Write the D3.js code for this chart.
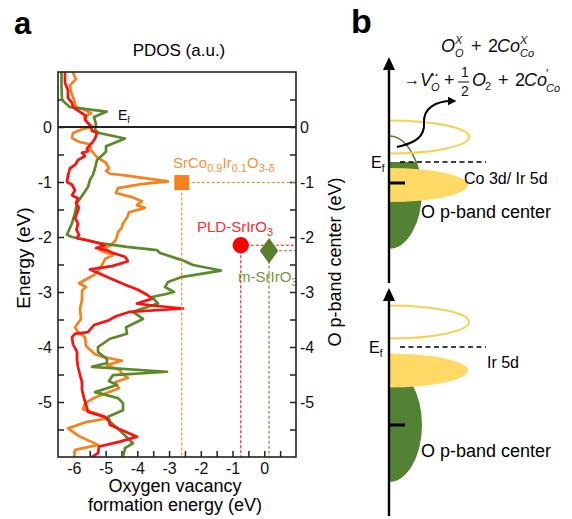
<!DOCTYPE html>
<html><head><meta charset="utf-8">
<script src="https://cdn.jsdelivr.net/npm/d3@7"></script>
<style>
body{margin:0;background:#fff}
svg{display:block}
text{font-family:"Liberation Sans",Arial,sans-serif}
</style>
</head><body><svg id="c" width="572" height="519"></svg>
<script>
// ---------------- DATA ----------------
const energyTicks = [0, -1, -2, -3, -4, -5];
const vacancyTicks = [-6, -5, -4, -3, -2, -1, 0];
// PDOS curves: [PDOS (a.u.), energy (eV)]
const pdosSrCoIrO = [[1.4,1.02],[1.8,0.87],[1.2,0.76],[1.3,0.64],[1.6,0.49],[1.8,0.36],[2.5,0.33],[3.3,0.25],[2.6,0.18],[3.0,0.07],[3.5,0.0],[2.4,-0.04],[1.5,-0.11],[1.4,-0.2],[2.1,-0.27],[3.1,-0.31],[3.3,-0.42],[3.9,-0.55],[4.8,-0.65],[5.1,-0.75],[4.8,-0.8],[5.2,-0.85],[6.7,-0.88],[9.0,-0.94],[11.0,-0.99],[8.3,-1.04],[6.0,-1.11],[5.8,-1.2],[7.3,-1.27],[8.4,-1.35],[7.9,-1.42],[8.7,-1.47],[7.1,-1.55],[6.9,-1.65],[6.5,-1.75],[6.35,-1.84],[6.0,-1.91],[5.8,-2.05],[5.3,-2.15],[4.2,-2.24],[5.5,-2.33],[4.7,-2.4],[4.4,-2.51],[4.0,-2.62],[3.6,-2.69],[2.1,-2.84],[2.8,-2.91],[2.4,-2.98],[2.4,-3.13],[2.2,-3.31],[2.3,-3.49],[1.7,-3.64],[2.0,-3.73],[2.7,-3.82],[2.8,-3.98],[3.7,-4.13],[4.5,-4.18],[6.4,-4.25],[4.9,-4.33],[6.2,-4.42],[6.4,-4.49],[7.0,-4.56],[5.7,-4.64],[6.1,-4.75],[4.8,-4.84],[3.8,-4.91],[2.7,-5.02],[2.5,-5.13],[4.3,-5.24],[4.9,-5.3],[2.9,-5.36],[1.0,-5.48],[2.1,-5.62],[4.0,-5.78],[1.7,-5.87],[1.6,-6.0]];
const pdosPLD = [[0.7,1.02],[0.7,0.8],[1.0,0.67],[1.0,0.53],[1.4,0.44],[1.5,0.36],[1.9,0.31],[2.4,0.25],[2.8,0.2],[2.7,0.13],[3.0,0.07],[3.3,0.0],[3.4,-0.07],[3.9,-0.11],[3.7,-0.21],[3.4,-0.29],[2.9,-0.39],[3.0,-0.44],[2.4,-0.47],[2.7,-0.53],[2.0,-0.6],[1.7,-0.69],[1.2,-0.75],[1.0,-0.87],[0.9,-1.0],[1.4,-1.05],[1.7,-1.15],[1.4,-1.24],[2.0,-1.3],[1.8,-1.38],[2.1,-1.47],[1.9,-1.56],[1.7,-1.66],[2.0,-1.75],[1.85,-1.87],[2.1,-1.96],[1.9,-2.02],[2.7,-2.05],[4.0,-2.11],[4.7,-2.15],[3.8,-2.2],[4.9,-2.24],[5.5,-2.29],[6.7,-2.36],[7.0,-2.44],[5.4,-2.53],[3.2,-2.59],[4.2,-2.67],[5.2,-2.75],[6.9,-2.88],[8.0,-2.96],[8.9,-3.05],[9.4,-3.12],[7.9,-3.21],[9.7,-3.25],[12.5,-3.3],[7.2,-3.36],[5.8,-3.44],[5.0,-3.52],[3.6,-3.6],[3.0,-3.73],[1.7,-3.76],[1.4,-3.82],[1.5,-3.95],[1.9,-4.09],[1.9,-4.24],[2.0,-4.36],[2.2,-4.51],[2.4,-4.64],[2.4,-4.78],[2.6,-4.93],[2.8,-5.05],[3.0,-5.18],[4.7,-5.27],[5.1,-5.35],[5.2,-5.42],[7.9,-5.63],[6.2,-5.72],[4.1,-5.81],[4.0,-5.93],[3.4,-6.0]];
const pdosMono = [[0.35,1.02],[0.35,0.76],[0.4,0.49],[1.2,0.36],[4.87,0.28],[3.6,0.18],[3.8,0.05],[3.7,-0.05],[4.1,-0.11],[6.7,-0.21],[4.8,-0.35],[4.8,-0.45],[3.9,-0.6],[3.7,-0.75],[3.5,-0.87],[3.2,-0.96],[3.0,-1.09],[2.4,-1.25],[1.9,-1.38],[1.7,-1.56],[1.4,-1.75],[0.9,-1.96],[1.4,-2.0],[4.2,-2.11],[6.9,-2.18],[9.9,-2.24],[10.2,-2.29],[12.4,-2.42],[13.5,-2.51],[16.3,-2.61],[12.3,-2.73],[11.0,-2.82],[10.7,-2.91],[11.6,-3.0],[10.7,-3.04],[9.4,-3.09],[10.0,-3.21],[7.5,-3.36],[8.5,-3.49],[6.8,-3.64],[6.9,-3.76],[5.2,-3.85],[4.0,-4.0],[4.0,-4.09],[4.9,-4.22],[4.9,-4.29],[3.4,-4.36],[10.9,-4.45],[5.5,-4.51],[5.1,-4.62],[5.9,-4.69],[3.7,-4.82],[6.0,-4.93],[6.5,-5.02],[6.5,-5.15],[5.0,-5.27],[5.2,-5.36],[5.9,-5.47],[7.5,-5.75],[6.7,-5.84],[6.5,-6.0]];
const sampleNames = ["SrCo0.9Ir0.1O3-δ", "PLD-SrIrO3", "m-SrIrO3"];
const vacancyEnergy = [-2.6, -0.74, 0.15];     // eV (bottom axis)
const pBandCenter = [-1.01, -2.15, -2.25];     // eV (right axis)
const sampleColors = ["#f5821f", "#ff1010", "#5b8a2b"];
const labelColors = ["#f7923a", "#ff2a2a", "#6f9a40"];
const bandLabelsB = ["Co 3d/ Ir 5d", "Ir 5d"];

// ---------------- PANEL A ----------------
const svg = d3.select("#c");
const L = 58, R = 296, T = 72, B = 457;
const x = d3.scaleLinear().domain([-6.5, 1]).range([L, R]);
const y = d3.scaleLinear().domain([-6, 1]).range([B, T]);
const pdosX = d3.scaleLinear().domain([0, 23.8]).range([L, R]);

svg.append("text").attr("x", 14).attr("y", 34).attr("font-size", 31).attr("font-weight", "bold").text("a");
svg.append("text").attr("x", 351).attr("y", 33).attr("font-size", 34).attr("font-weight", "bold").text("b");
svg.append("text").attr("x", 179).attr("y", 56).attr("text-anchor", "middle").attr("font-size", 17).text("PDOS (a.u.)");

const fmt = d => Number.isInteger(d) ? String(d) : "";
const halfTicks = d3.range(-11, 2).map(i => i / 2);
function styleAxis(g) {
  g.select(".domain").remove();
  g.selectAll("line").attr("stroke", "#222").attr("stroke-width", 1.5);
  g.selectAll("text").attr("font-size", 16).attr("font-family", "'Liberation Sans', Arial, sans-serif").attr("fill", "#111");
}
svg.append("g").attr("transform", `translate(${L},0)`)
  .call(d3.axisLeft(y).tickValues(halfTicks).tickSize(-6).tickPadding(6).tickFormat(fmt)).call(styleAxis);
svg.append("g").attr("transform", `translate(${R},0)`)
  .call(d3.axisRight(y).tickValues(halfTicks).tickSize(-6).tickPadding(4).tickFormat(fmt)).call(styleAxis);
svg.append("g").attr("transform", `translate(0,${B})`)
  .call(d3.axisBottom(x).tickValues(d3.range(-12, 2).map(i => i / 2)).tickSize(-6).tickPadding(6).tickFormat(fmt)).call(styleAxis);

svg.append("text").attr("transform", "translate(30,258) rotate(-90)").attr("text-anchor", "middle").attr("font-size", 19).text("Energy (eV)");
svg.append("text").attr("transform", "translate(341,262) rotate(-90)").attr("text-anchor", "middle").attr("font-size", 18).text("O p-band center (eV)");
svg.append("text").attr("x", 175).attr("y", 492).attr("text-anchor", "middle").attr("font-size", 18).text("Oxygen vacancy");
svg.append("text").attr("x", 175).attr("y", 511).attr("text-anchor", "middle").attr("font-size", 18).text("formation energy (eV)");

svg.append("clipPath").attr("id", "plotclip").append("rect").attr("x", L).attr("y", T).attr("width", R - L).attr("height", B - T);
const line = d3.line().x(d => pdosX(d[0])).y(d => y(d[1]));
const curves = svg.append("g").attr("clip-path", "url(#plotclip)");
[[pdosSrCoIrO, 0], [pdosMono, 2], [pdosPLD, 1]].forEach(([data, i]) => {
  curves.append("path").datum(data).attr("d", line).attr("fill", "none")
    .attr("stroke", sampleColors[i]).attr("stroke-width", 2.7).attr("stroke-linejoin", "round");
});

// Fermi level
svg.append("line").attr("x1", L).attr("x2", R).attr("y1", y(0)).attr("y2", y(0)).attr("stroke", "#222").attr("stroke-width", 2);
const ef = svg.append("text").attr("x", 118).attr("y", 120).attr("font-size", 14);
ef.append("tspan").text("E");
ef.append("tspan").attr("font-size", 9).attr("dy", 3).text("f");

// sample markers and dashed guides
vacancyEnergy.forEach((v, i) => {
  const cx = x(v), cy = y(pBandCenter[i]);
  svg.append("line").attr("x1", cx).attr("x2", R).attr("y1", cy).attr("y2", cy)
    .attr("stroke", sampleColors[i]).attr("stroke-width", 1.1).attr("stroke-dasharray", "3,2");
  svg.append("line").attr("x1", cx).attr("x2", cx).attr("y1", cy).attr("y2", B)
    .attr("stroke", sampleColors[i]).attr("stroke-width", 1.1).attr("stroke-dasharray", "3,2");
});
const symTypes = [d3.symbolSquare, d3.symbolCircle, d3.symbolDiamond];
const symSizes = [225, 210, 190];
const symFill = ["#f5821f", "#ff0000", "#5a7f2a"];
vacancyEnergy.forEach((v, i) => {
  svg.append("path").attr("d", d3.symbol().type(symTypes[i]).size(symSizes[i])())
    .attr("transform", `translate(${x(v)},${y(pBandCenter[i])})` + (i === 2 ? " scale(1.25,1)" : ""))
    .attr("fill", symFill[i]);
});

// sample labels with subscripts
function richLabel(parts, px, py, color) {
  const t = svg.append("text").attr("x", px).attr("y", py).attr("font-size", 15).attr("fill", color);
  let sub = false;
  parts.forEach(p => {
    const isSub = /^[0-9.\-δ]+$/.test(p) && p !== "-";
    const s = t.append("tspan").text(p);
    if (isSub && !sub) { s.attr("dy", 4).attr("font-size", 11); sub = true; }
    else if (isSub) { s.attr("font-size", 11); }
    else if (sub) { s.attr("dy", -4); sub = false; }
  });
}
richLabel(["SrCo", "0.9", "Ir", "0.1", "O", "3-δ"], 173, 168, labelColors[0]);
richLabel(["PLD-SrIrO", "3"], 197, 232, labelColors[1]);
richLabel(["m-SrIrO", "3"], 238, 282, labelColors[2]);

// frame
svg.append("rect").attr("x", L).attr("y", T).attr("width", R - L).attr("height", B - T)
  .attr("fill", "none").attr("stroke", "#222").attr("stroke-width", 1.6);

// ---------------- PANEL B (schematic) ----------------
const yellow = "#ffd966", yellowLine = "#f7cf52", green = "#548235";
const ax = 389;
const halfEll = (cy, rx, ry) => `M${ax},${cy - ry} A${rx},${ry} 0 0 1 ${ax},${cy + ry}`;
const defs = svg.append("defs");
defs.append("marker").attr("id", "ah").attr("viewBox", "0 0 10 10").attr("refX", 5).attr("refY", 5)
  .attr("markerWidth", 4.5).attr("markerHeight", 4.5).attr("orient", "auto")
  .append("path").attr("d", "M0,0 L10,5 L0,10 z").attr("fill", "#000");
defs.append("clipPath").attr("id", "belowEf").append("rect").attr("x", ax).attr("y", 162).attr("width", 100).attr("height", 120);

function diagram(o) {
  const g = svg.append("g");
  if (o.greenOutlineAbove) {
    g.append("path").attr("d", halfEll(o.gCy, o.gRx, o.gRy)).attr("fill", "none").attr("stroke", green).attr("stroke-width", 1.6);
    g.append("path").attr("d", halfEll(o.gCy, o.gRx, o.gRy) + "Z").attr("fill", green).attr("clip-path", "url(#belowEf)");
  } else {
    g.append("path").attr("d", halfEll(o.gCy, o.gRx, o.gRy) + "Z").attr("fill", green);
  }
  g.append("path").attr("d", halfEll(o.eCy, 80, 16.5)).attr("fill", "none").attr("stroke", yellowLine).attr("stroke-width", 2);
  g.append("path").attr("d", halfEll(o.dCy, 79, 17) + "Z").attr("fill", yellow);
  g.append("line").attr("x1", ax).attr("x2", ax + 16).attr("y1", o.tickY).attr("y2", o.tickY).attr("stroke", "#000").attr("stroke-width", 3);
  g.append("line").attr("x1", 400).attr("x2", 486).attr("y1", o.efY).attr("y2", o.efY).attr("stroke", "#000").attr("stroke-width", 1.6).attr("stroke-dasharray", "5,3.5");
  const t = g.append("text").attr("x", o.efX).attr("y", o.efY + 6).attr("font-size", 16);
  t.append("tspan").text("E");
  t.append("tspan").attr("font-size", 10).attr("dy", 4).text("f");
  g.append("line").attr("x1", ax).attr("x2", ax).attr("y1", o.axBottom).attr("y2", o.axTop + 10).attr("stroke", "#000").attr("stroke-width", 2.4);
  g.append("path").attr("d", `M${ax},${o.axTop} L${ax - 6},${o.axTop + 13} L${ax + 6},${o.axTop + 13} Z`).attr("fill", "#000");
  g.append("text").attr("x", o.bandX).attr("y", o.bandY).attr("font-size", 16).text(o.band);
  g.append("text").attr("x", 421).attr("y", o.pY).attr("font-size", 18).text("O p-band center");
}
diagram({gCy: 192, gRx: 32, gRy: 56, greenOutlineAbove: true, eCy: 137, dCy: 185, tickY: 183, efY: 162, efX: 371,
  axTop: 57, axBottom: 283, band: bandLabelsB[0], bandX: 464, bandY: 184, pY: 218});
diagram({gCy: 425, gRx: 33, gRy: 57, greenOutlineAbove: false, eCy: 322, dCy: 370.5, tickY: 425, efY: 347, efX: 369,
  axTop: 288, axBottom: 516, band: bandLabelsB[1], bandX: 487, bandY: 368, pY: 457});

// curvy arrow
svg.append("path").attr("d", "M397,147 C416,143 425,136 424,123 C423,108 436,101 452,101")
  .attr("fill", "none").attr("stroke", "#000").attr("stroke-width", 2).attr("marker-end", "url(#ah)");

// defect equation
const eq = svg.append("g").attr("fill", "#111");
function et(str, px, py, size, italic) {
  eq.append("text").attr("x", px).attr("y", py).attr("font-size", size)
    .attr("font-style", italic ? "italic" : "normal")
    .attr("font-family", "'Liberation Serif','DejaVu Serif',serif").text(str);
}
// line 1
et("O", 441, 52, 18, true); et("O", 455, 57, 11, true); et("X", 455, 44, 11, true);
et("+", 471, 52, 18, false); et("2", 488, 52, 18, false);
et("Co", 497, 52, 18, true); et("Co", 520, 57, 11, true); et("X", 520, 44, 11, true);
// line 2
et("→", 404, 85, 16, false);
et("V", 420, 86, 18, true); et("O", 431, 91, 11, true);
eq.append("circle").attr("cx", 433).attr("cy", 75).attr("r", 0.9).attr("fill", "#111");
eq.append("circle").attr("cx", 436.5).attr("cy", 75).attr("r", 0.9).attr("fill", "#111");
et("+", 444, 86, 18, false);
et("1", 461, 77, 14, false); et("2", 461, 96, 14, false);
eq.append("line").attr("x1", 458).attr("x2", 469).attr("y1", 82).attr("y2", 82).attr("stroke", "#111").attr("stroke-width", 1);
et("O", 472, 86, 18, true); et("2", 485, 90, 11, false);
et("+", 498, 86, 18, false); et("2", 515, 86, 18, false);
et("Co", 524, 86, 18, true); et("′", 546, 78, 12, false); et("Co", 546, 92, 11, true);
</script>
</body></html>
